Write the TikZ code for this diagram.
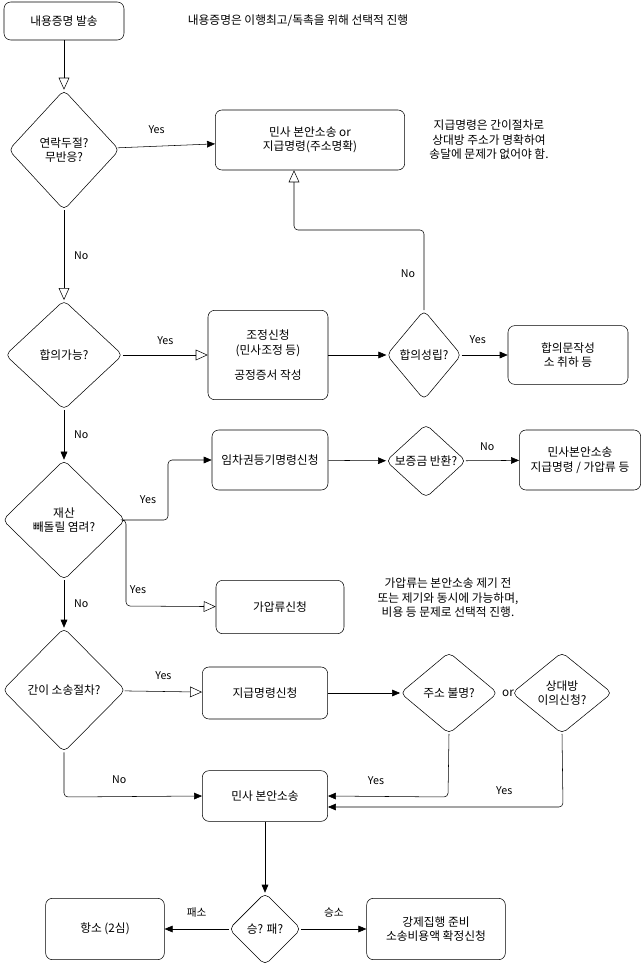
\documentclass[tikz,border=0pt]{standalone}
\usepackage{fontspec}
\setmainfont{Noto Sans CJK KR}
\usetikzlibrary{shapes.geometric,arrows.meta}
\begin{document}
\begin{tikzpicture}[x=0.75pt,y=-0.75pt,font=\fontsize{8.8}{10.8}\selectfont,
  box/.style={draw,rounded corners=5pt,align=center,inner sep=0pt},
  dia/.style={draw,diamond,align=center,inner sep=0pt,rounded corners=4pt},
  sol/.style={-{Triangle[length=6pt,width=5pt]},rounded corners=3pt},
  opn/.style={-{Triangle[open,length=9pt,width=8pt]},rounded corners=3pt},
  lbl/.style={font=\fontsize{8}{10}\selectfont}]
\useasboundingbox (0,0) rectangle (642,970);
\node[box,minimum width=90pt,minimum height=28.5pt] (start) at (64,21) {내용증명 발송};
\node (n0) at (298,21) {내용증명은 이행최고/독촉을 위해 선택적 진행};
\node[dia,minimum width=83pt,minimum height=90pt] (d1) at (64,150) {연락두절?\\무반응?};
\node[box,minimum width=142pt,minimum height=45pt] (b1) at (310,140) {민사 본안소송 or\\지급명령(주소명확)};
\node[align=center] (n1) at (489,140) {지급명령은 간이절차로\\상대방 주소가 명확하여\\송달에 문제가 없어야 함.};
\node[dia,minimum width=88pt,minimum height=82pt] (d2) at (64,355) {합의가능?};
\node[box,minimum width=90pt,minimum height=67pt] (b2) at (268,355) {조정신청\\(민사조정 등)\\[8pt]공정증서 작성};
\node[dia,minimum width=56pt,minimum height=67pt] (d3) at (424,355) {합의성립?};
\node[box,minimum width=90pt,minimum height=44pt] (b3) at (568,355) {합의문작성\\소 취하 등};
\node[dia,minimum width=92pt,minimum height=90pt] (d4) at (64,520) {재산\\빼돌릴 염려?};
\node[box,minimum width=87pt,minimum height=45pt] (b4) at (270,460) {임차권등기명령신청};
\node[dia,minimum width=60pt,minimum height=55pt] (d5) at (426,461) {보증금 반환?};
\node[box,minimum width=91pt,minimum height=45pt] (b5) at (580,460) {민사본안소송\\지급명령 / 가압류 등};
\node[box,minimum width=96pt,minimum height=40pt] (b6) at (280,607) {가압류신청};
\node[align=center] (n2) at (448,598) {가압류는 본안소송 제기 전\\또는 제기와 동시에 가능하며,\\비용 등 문제로 선택적 진행.};
\node[dia,minimum width=92pt,minimum height=93pt] (d6) at (64,690) {간이 소송절차?};
\node[box,minimum width=94pt,minimum height=39pt] (b7) at (265,693) {지급명령신청};
\node[dia,minimum width=73pt,minimum height=61pt] (d7) at (449,693) {주소 불명?};
\node (or) at (508,693) {or};
\node[dia,minimum width=75pt,minimum height=61pt] (d8) at (562,693) {상대방\\이의신청?};
\node[box,minimum width=94pt,minimum height=38pt] (b8) at (265,796) {민사 본안소송};
\node[dia,minimum width=54pt,minimum height=54pt] (d9) at (265,929) {승? 패?};
\node[box,minimum width=89pt,minimum height=46pt] (b9) at (105,929) {항소 (2심)};
\node[box,minimum width=104pt,minimum height=46pt] (b10) at (436,929) {강제집행 준비\\소송비용액 확정신청};
\draw[opn] (start) -- (d1);
\draw[sol] (d1) -- node[lbl,above=6pt,pos=0.4]{Yes} (b1);
\draw[opn] (d1) -- node[lbl,right=4pt]{No} (d2);
\draw[opn] (d2) -- node[lbl,above=4pt]{Yes} (b2);
\draw[sol] (b2) -- (d3);
\draw[sol] (d3) -- node[lbl,above=5pt,pos=0.35]{Yes} (b3);
\draw[opn] (d3.north) -- (424,230) -- (294,230) -- (b1.south -| 294,0);
\node[lbl] (no3) at (408,274) {No};
\draw[sol] (d2) -- node[lbl,right=4pt]{No} (d4);
\draw[sol] (d4.east) -- (168,520) -- (168,460) -- (b4);
\node[lbl] (y4) at (148,500) {Yes};
\draw[opn] (d4.east) -- (126,520) -- (126,606) -- (b6);
\node[lbl] (y5) at (138,590) {Yes};
\draw[sol] (b4) -- (d5);
\draw[sol] (d5) -- node[lbl,above=4pt,pos=0.4]{No} (b5);
\draw[sol] (d4) -- node[lbl,right=4pt]{No} (d6);
\draw[opn] (d6) -- node[lbl,above=5pt,pos=0.5]{Yes} (b7);
\draw[sol] (b7) -- (d7);
\draw[sol] (d7.south) -- (448,797) -- node[lbl,above=5pt,pos=0.6]{Yes} (b8.east);
\draw[sol] (d8.south) -- (563,807) -- node[lbl,above=6pt,pos=0.25]{Yes} (b8.east |- 0,807);
\draw[sol] (d6.south) -- (64,797) -- node[lbl,above=6pt,pos=0.4]{No} (b8.west);
\draw[sol] (b8) -- (d9);
\draw[sol] (d9) -- node[lbl,above=5pt]{패소} (b9);
\draw[sol] (d9) -- node[lbl,above=5pt]{승소} (b10);
\end{tikzpicture}
\end{document}
